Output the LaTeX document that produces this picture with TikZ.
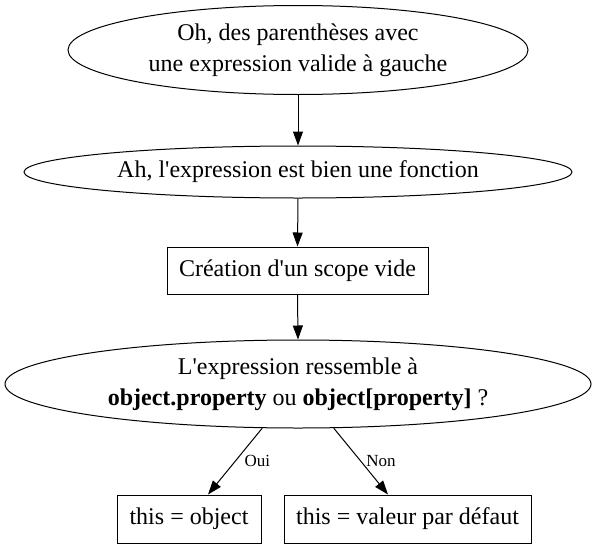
\documentclass[tikz,border=0pt]{standalone}
\usepackage{fontspec}
\setmainfont{Liberation Serif}
\usetikzlibrary{arrows.meta,shapes.geometric,calc}
\tikzset{
  ell/.style={draw, ellipse, line width=1pt, inner sep=0pt, align=center,
    font=\fontsize{24}{31}\selectfont},
  boxnode/.style={draw, rectangle, line width=1pt, inner sep=0pt, align=center,
    font=\fontsize{24}{29}\selectfont},
  arr/.style={line width=1pt, -{Triangle[length=14pt,width=10pt]}},
  lbl/.style={font=\fontsize{17}{20}\selectfont, inner sep=1pt}
}
\begin{document}
\begin{tikzpicture}[x=1pt,y=-1pt]
\useasboundingbox (0,0) rectangle (597,549);
\node[ell, minimum width=460pt, minimum height=89pt] (e1) at (298,50)
  {Oh, des parenthèses avec\\une expression valide à gauche};
\node[ell, minimum width=548pt, minimum height=52pt] (e2) at (298,172)
  {Ah, l\textquotesingle expression est bien une fonction};
\node[boxnode, minimum width=261pt, minimum height=47pt] (b3) at (297.5,270.5)
  {Création d\textquotesingle un scope vide};
\node[ell, minimum width=586pt, minimum height=88pt] (e4) at (298,384)
  {L\textquotesingle expression ressemble à\\\textbf{object.property} ou \textbf{object[property]} ?};
\node[boxnode, minimum width=144pt, minimum height=48pt] (b5) at (189,519)
  {this = object};
\node[boxnode, minimum width=247pt, minimum height=48pt] (b6) at (407.5,519)
  {this = valeur par défaut};
\draw[arr] (e1.south) -- (e2.north);
\draw[arr] (e2.south) -- (b3.north);
\draw[arr] (b3.south) -- (e4.north);
\draw[arr] (e4.231) -- node[lbl, anchor=west, xshift=8pt] (loui) {Oui} ([xshift=19pt]b5.north);
\draw[arr] (e4.309) -- node[lbl, anchor=west, xshift=4pt] (lnon) {Non} ([xshift=-19.5pt]b6.north);
\end{tikzpicture}
\end{document}
